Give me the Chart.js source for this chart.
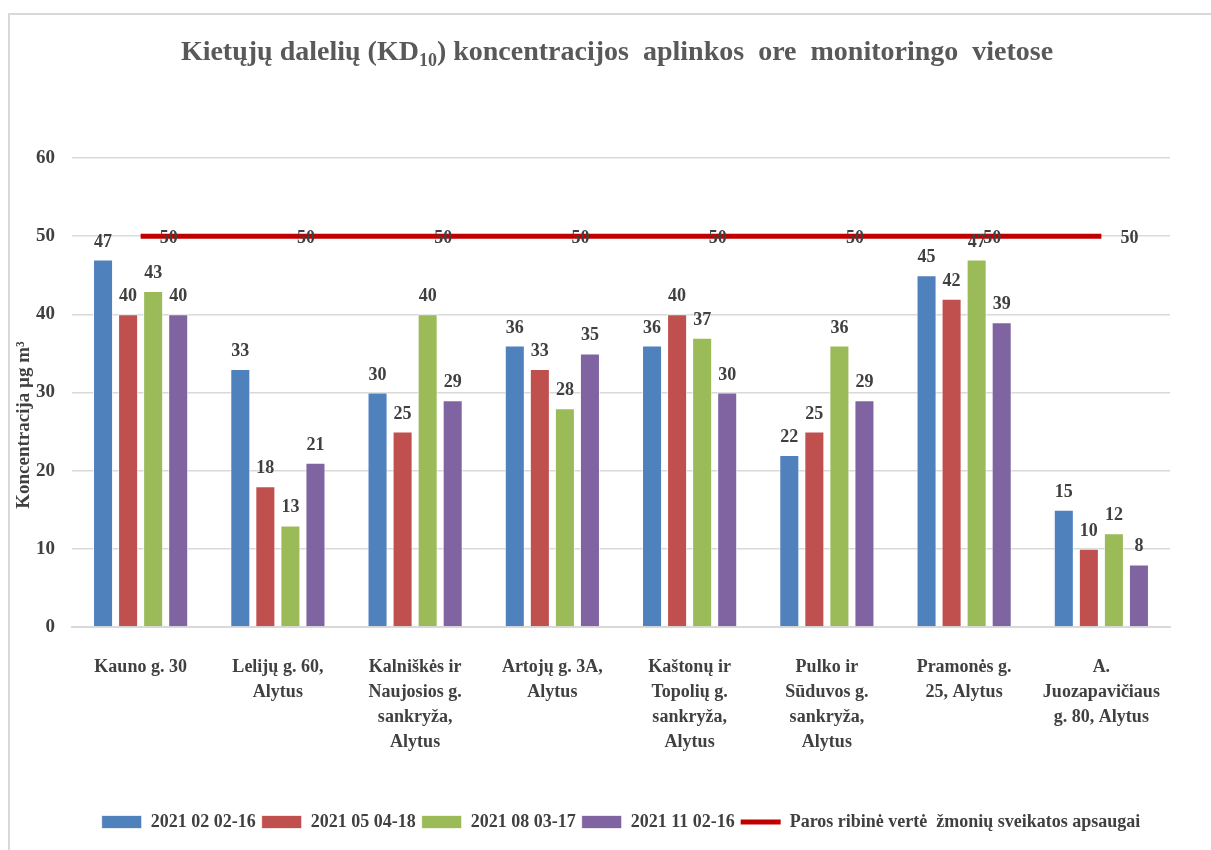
<!DOCTYPE html>
<html>
<head>
<meta charset="utf-8">
<script src="https://cdn.jsdelivr.net/npm/chart.js@4"></script>
<style>
  html, body { margin: 0; padding: 0; background: #fff; overflow: hidden; }
  #wrap { width: 1211px; height: 850px; }
</style>
</head>
<body>
<div id="wrap"><canvas id="kdChart" width="1211" height="850"></canvas></div>
<script>
// ---------- DATA ----------
const locations = [
    ['Kauno g. 30'],
    ['Lelijų g. 60,', 'Alytus'],
    ['Kalniškės ir', 'Naujosios g.', 'sankryža,', 'Alytus'],
    ['Artojų g. 3A,', 'Alytus'],
    ['Kaštonų ir', 'Topolių g.', 'sankryža,', 'Alytus'],
    ['Pulko ir', 'Sūduvos g.', 'sankryža,', 'Alytus'],
    ['Pramonės g.', '25, Alytus'],
    ['A.', 'Juozapavičiaus', 'g. 80, Alytus']
];
const periods = ['2021 02 02-16', '2021 05 04-18', '2021 08 03-17', '2021 11 02-16'];
const febValues = [47, 33, 30, 36, 36, 22, 45, 15];
const mayValues = [40, 18, 25, 33, 40, 25, 42, 10];
const augValues = [43, 13, 40, 28, 37, 36, 47, 12];
const novValues = [40, 21, 29, 35, 30, 29, 39, 8];
const limitLabel = 'Paros ribinė vertė  žmonių sveikatos apsaugai';
const limitValues = [50, 50, 50, 50, 50, 50, 50, 50];
const yTicks = [0, 10, 20, 30, 40, 50, 60];

const barColors = ['#4f81bd', '#c0504d', '#9bbb59', '#8064a2'];
const textColor = '#404040';
const serif = '"Liberation Serif", "Times New Roman", serif';

// ---------- PLUGINS ----------
const framePlugin = {
    id: 'frame',
    beforeDraw(chart) {
        const ctx = chart.ctx;
        ctx.save();
        ctx.strokeStyle = '#d9d9d9';
        ctx.lineWidth = 2;
        ctx.strokeRect(9, 14, 1400, 1000);

        // title with subscript
        const parts = [
            { t: 'Kietųjų dalelių (KD', size: 28, dy: 0 },
            { t: '10', size: 18, dy: 6 },
            { t: ') koncentracijos  aplinkos  ore  monitoringo  vietose', size: 28, dy: 0 }
        ];
        ctx.fillStyle = '#595959';
        ctx.textBaseline = 'alphabetic';
        ctx.textAlign = 'left';
        let total = 0;
        parts.forEach(p => {
            ctx.font = 'bold ' + p.size + 'px ' + serif;
            p.w = ctx.measureText(p.t).width;
            total += p.w;
        });
        let x = 617 - total / 2;
        parts.forEach(p => {
            ctx.font = 'bold ' + p.size + 'px ' + serif;
            ctx.fillText(p.t, x, 60 + p.dy);
            x += p.w;
        });

        // y axis title
        ctx.translate(24, 425);
        ctx.rotate(-Math.PI / 2);
        ctx.textAlign = 'center';
        ctx.textBaseline = 'middle';
        ctx.fillStyle = textColor;
        ctx.font = 'bold 19px ' + serif;
        ctx.fillText('Koncentracija µg m³', 0, 0);
        ctx.restore();
    }
};

const valueLabels = {
    id: 'valueLabels',
    afterDatasetsDraw(chart) {
        const ctx = chart.ctx;
        ctx.save();
        ctx.fillStyle = textColor;
        ctx.font = 'bold 18px ' + serif;
        ctx.textAlign = 'center';
        ctx.textBaseline = 'alphabetic';
        chart.data.datasets.forEach((ds, i) => {
            const meta = chart.getDatasetMeta(i);
            meta.data.forEach((el, j) => {
                if (ds.type === 'line') {
                    ctx.fillText(ds.data[j], el.x + 28, el.y + 7);
                } else {
                    ctx.fillText(ds.data[j], el.x, el.y - 13);
                }
            });
        });
        ctx.restore();
    }
};

// ---------- CHART ----------
const barSeries = [febValues, mayValues, augValues, novValues];
const datasets = barSeries.map((vals, i) => ({
    type: 'bar',
    label: periods[i],
    data: vals,
    backgroundColor: barColors[i],
    borderColor: 'rgba(255,255,255,0.7)',
    borderWidth: 1,
    pointStyle: 'rect',
    categoryPercentage: 0.73,
    barPercentage: 0.8,
    order: 2
}));
datasets.push({
    type: 'line',
    label: limitLabel,
    data: limitValues,
    borderColor: '#c00000',
    backgroundColor: '#c00000',
    borderWidth: 5,
    pointRadius: 0,
    pointStyle: 'line',
    order: 1
});

new Chart(document.getElementById('kdChart'), {
    data: { labels: locations, datasets: datasets },
    options: {
        responsive: false,
        animation: false,
        layout: { padding: { left: 10, right: 41, top: 158, bottom: 9 } },
        plugins: {
            title: { display: false },
            tooltip: { enabled: false },
            legend: {
                position: 'bottom',
                fullSize: false,
                labels: {
                    usePointStyle: true,
                    pointStyleWidth: 40,
                    boxHeight: 13,
                    padding: 6,
                    color: textColor,
                    font: { family: serif, size: 18, weight: 'bold' },
                    sort: (a, b) => a.datasetIndex - b.datasetIndex
                }
            }
        },
        scales: {
            x: {
                grid: { display: false },
                border: { color: '#d9d9d9', width: 2 },
                ticks: {
                    maxRotation: 0,
                    autoSkip: false,
                    padding: 20,
                    color: textColor,
                    font: { family: serif, size: 18, weight: 'bold', lineHeight: 1.39 }
                },
                afterFit(scale) { scale.height = 180; }
            },
            y: {
                min: 0,
                max: 60,
                afterBuildTicks(scale) { scale.ticks = yTicks.map(v => ({ value: v })); },
                grid: { color: '#d9d9d9', lineWidth: 1.5, drawTicks: false },
                border: { display: false },
                ticks: {
                    padding: 17,
                    color: textColor,
                    font: { family: serif, size: 19, weight: 'bold' }
                },
                afterFit(scale) { scale.width = 62; }
            }
        }
    },
    plugins: [framePlugin, valueLabels]
});
</script>
</body>
</html>
